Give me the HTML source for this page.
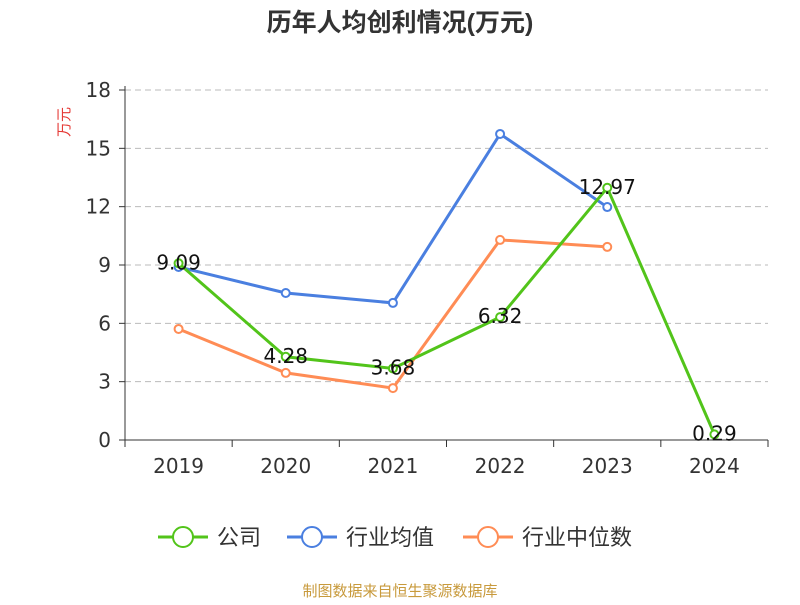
<!DOCTYPE html>
<html><head><meta charset="utf-8">
<style>
body{margin:0;background:#fff;}
svg text{font-family:"Liberation Sans","Noto Sans CJK SC",sans-serif;}
svg text.num{font-family:"DejaVu Sans","Liberation Sans",sans-serif;}
</style></head>
<body>
<svg id="chart" width="800" height="600" xmlns="http://www.w3.org/2000/svg">
<text x="400" y="31" text-anchor="middle" font-size="25" font-weight="bold" fill="#333">历年人均创利情况(万元)</text>
<text transform="translate(69,122) rotate(-90)" text-anchor="middle" font-size="15" fill="#e53935">万元</text>
<g id="grid"></g><g id="axes"></g><g id="series"></g><g id="labels"></g>
<g id="legend"></g>
<text x="400" y="596" text-anchor="middle" font-size="15" fill="#c89a3c">制图数据来自恒生聚源数据库</text>
</svg>
<script>
const categories=["2019","2020","2021","2022","2023","2024"];
const yTicks=[0,3,6,9,12,15,18];
const company=[9.09,4.28,3.68,6.32,12.97,0.29];
const companyLabels=["9.09","4.28","3.68","6.32","12.97","0.29"];
const industryAvg=[8.9,7.56,7.05,15.74,11.98,null];
const industryMedian=[5.71,3.45,2.67,10.29,9.93,null];

const NS="http://www.w3.org/2000/svg";
const x0=125,x1=768,y0=440,y1=90,yMax=18;
const band=(x1-x0)/categories.length;
const X=i=>x0+band*(i+0.5);
const Y=v=>y0-(v/yMax)*(y0-y1);
function mk(tag,attrs,parent){const e=document.createElementNS(NS,tag);for(const k in attrs)e.setAttribute(k,attrs[k]);parent.appendChild(e);return e;}
const grid=document.getElementById('grid'),axes=document.getElementById('axes'),series=document.getElementById('series'),labels=document.getElementById('labels'),legend=document.getElementById('legend');

yTicks.forEach(t=>{
  if(t>0){const l=mk('line',{x1:x0,x2:x1,y1:Y(t),y2:Y(t),stroke:'#bbb','stroke-dasharray':'6,4'},grid);
  
  }
  const tk=mk('line',{x1:x0-6,x2:x0,y1:Y(t),y2:Y(t),stroke:'#333'},axes);
  
  
  const tx=mk('text',{class:'num',x:x0-14,y:Y(t)+7,'text-anchor':'end','font-size':20,fill:'#333'},axes);
  tx.textContent=t;
  
  
});
const ya=mk('line',{x1:x0,x2:x0,y1:y1-4,y2:y0,stroke:'#333'},axes);


const xa=mk('line',{x1:x0,x2:x1,y1:y0,y2:y0,stroke:'#333'},axes);


for(let i=0;i<=categories.length;i++){
  const tk=mk('line',{x1:x0+band*i,x2:x0+band*i,y1:y0,y2:y0+7,stroke:'#333'},axes);
  
  
}
categories.forEach((c,i)=>{
  const t=mk('text',{class:'num',x:X(i),y:473,'text-anchor':'middle','font-size':20,fill:'#333'},axes);
  t.textContent=c;
  
  
});

function drawSeries(vals,color,name){
  const pts=[];vals.forEach((v,i)=>{if(v!==null)pts.push([X(i),Y(v)]);});
  const pl=mk('polyline',{points:pts.map(p=>p.join(',')).join(' '),fill:'none',stroke:color,'stroke-width':3},series);
  
  
  pts.forEach(p=>{
    const c=mk('circle',{cx:p[0],cy:p[1],r:4,fill:'#fff',stroke:color,'stroke-width':2},series);
    
    
  });
}
drawSeries(industryAvg,'#4a7fe0','industry-average');
drawSeries(industryMedian,'#ff8c55','industry-median');
drawSeries(company,'#52c41a','company');
company.forEach((v,i)=>{
  const t=mk('text',{class:'num',x:X(i),y:Y(v)+6,'text-anchor':'middle','font-size':20,fill:'#111'},labels);
  t.textContent=companyLabels[i];
  
  
});

const leg=[["公司",'#52c41a',158],["行业均值",'#4a7fe0',287],["行业中位数",'#ff8c55',463]];
leg.forEach(([n,c,x])=>{
  const g=mk('g',{},legend);
  
  
  mk('line',{x1:x,x2:x+50,y1:537,y2:537,stroke:c,'stroke-width':3},g);
  mk('circle',{cx:x+25,cy:537,r:10,fill:'#fff',stroke:c,'stroke-width':2},g);
  const t=mk('text',{x:x+59,y:545,'font-size':22,fill:'#333'},g);
  t.textContent=n;
});
</script>
</body></html>
